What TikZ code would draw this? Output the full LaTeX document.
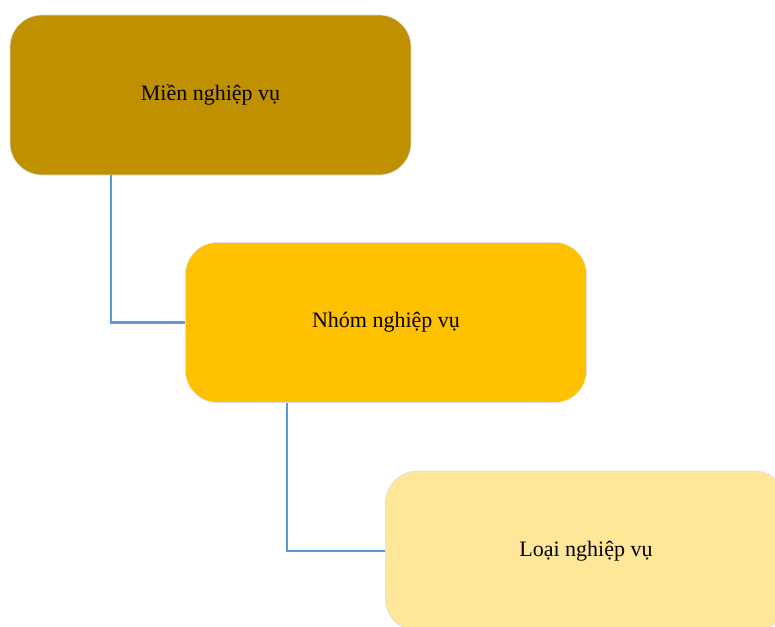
\documentclass[tikz,border=0pt]{standalone}
\usepackage{fontspec}
\setmainfont{Liberation Serif}
\definecolor{c1}{HTML}{BF9000}
\definecolor{c2}{HTML}{FFC000}
\definecolor{c3}{HTML}{FFE699}
\definecolor{conn}{HTML}{5B9BD5}
\begin{document}
\begin{tikzpicture}[x=1pt,y=-1pt,
  box/.style={rounded corners=32pt, draw=black!12, line width=0.6pt, minimum width=401pt, minimum height=160pt, inner sep=0pt, font=\fontsize{22}{26}\selectfont, text=black},
  link/.style={draw=conn, line width=2.2pt}]
\useasboundingbox (0,0) rectangle (775,626);
\clip (0,0) rectangle (775,626);
\node[box, fill=c1] (a) at (210.5,95) {Miền nghiệp vụ};
\node[box, fill=c2] (b) at (386,322.5) {Nhóm nghiệp vụ};
\node[box, fill=c3] (c) at (586,551) {Loại nghiệp vụ};
\draw[link] (a.south -| 111,0) |- (b.west);
\draw[link] (b.south -| 287,0) |- (c.west);
\end{tikzpicture}
\end{document}
